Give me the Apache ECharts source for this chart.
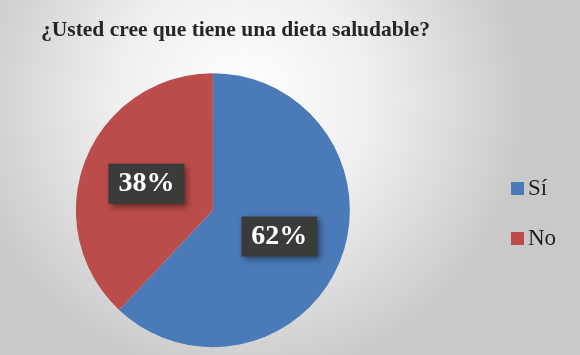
<!DOCTYPE html>
<html>
<head>
<meta charset="utf-8">
<script src="https://cdn.jsdelivr.net/npm/echarts@6/dist/echarts.min.js"></script>
<style>html,body{margin:0;padding:0;}#c{width:580px;height:355px;}</style>
</head>
<body>
<div id="c"></div>
<script>
const titleText = '¿Usted cree que tiene una dieta saludable?';
const categories = ['Sí', 'No'];
const values = [62, 38];
const colors = ['#4a7ab7', '#bb4c4a'];

const chart = echarts.init(document.getElementById('c'), null, {renderer: 'canvas'});
chart.setOption({
  backgroundColor: {
    type: 'radial', x: 0.42, y: 0.28, r: 0.8,
    colorStops: [{offset: 0, color: '#ffffff'}, {offset: 0.45, color: '#efefef'}, {offset: 1, color: '#c9c9c9'}]
  },
  title: {
    text: titleText, left: 36, top: 14,
    textStyle: {fontFamily: 'Liberation Serif', fontWeight: 'bold', fontSize: 21.5, color: '#262626'}
  },
  legend: {
    orient: 'vertical', left: 506, top: 172,
    itemWidth: 13, itemHeight: 13, itemGap: 27, icon: 'rect',
    data: categories,
    textStyle: {fontFamily: 'Liberation Serif', fontSize: 23, color: '#1e1e1e', lineHeight: 22, padding: [0, 0, 0, -1]}
  },
  series: [{
    type: 'pie',
    center: ['36.7%', '59.2%'],
    radius: 137,
    startAngle: 90,
    clockwise: true,
    animation: false,
    data: categories.map((c, i) => ({name: c, value: values[i], itemStyle: {color: colors[i]}})),
    label: {
      show: true, position: 'inside',
      formatter: p => Math.round(p.percent) + '%',
      fontFamily: 'Liberation Serif', fontWeight: 'bold', fontSize: 28, color: '#ffffff',
      backgroundColor: '#3b3b3b', padding: [7, 10, 5, 10],
      shadowColor: 'rgba(0,0,0,0.45)', shadowBlur: 6, shadowOffsetX: 3, shadowOffsetY: 3
    },
    labelLine: {show: false},
    emphasis: {disabled: true}
  }]
});
</script>
</body>
</html>
